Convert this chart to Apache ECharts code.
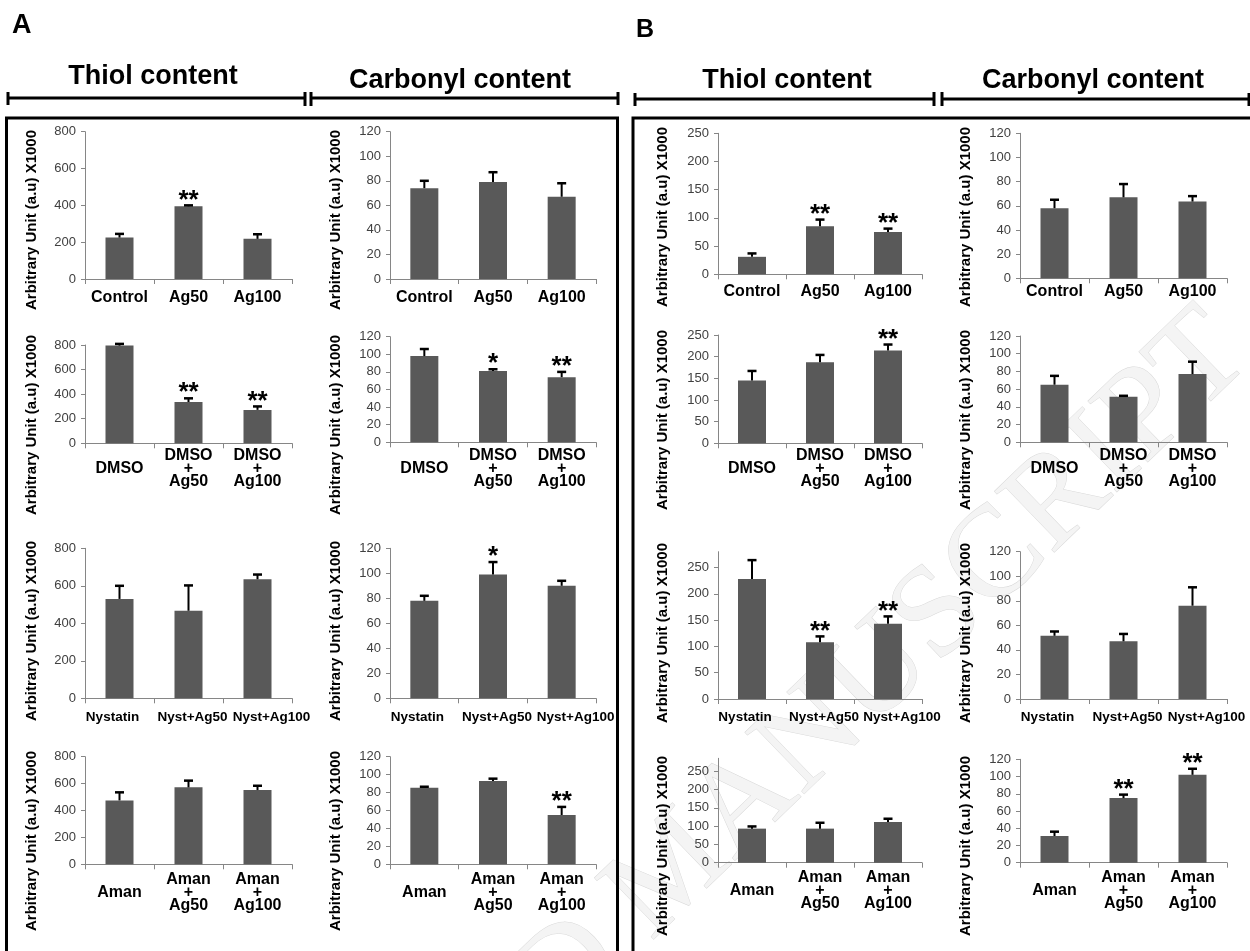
<!DOCTYPE html>
<html><head><meta charset="utf-8">
<script src="https://cdn.jsdelivr.net/npm/echarts@6/dist/echarts.min.js"></script>
<style>html,body{margin:0;padding:0;background:#fff}#c{width:1250px;height:951px}</style>
</head><body><div id="c"></div>
<script>
// ---------- categories ----------
const catsControl = ['Control', 'Ag50', 'Ag100'];
const catsDMSO = ['DMSO', 'DMSO\n+\nAg50', 'DMSO\n+\nAg100'];
const catsNyst = ['Nystatin', 'Nyst+Ag50', 'Nyst+Ag100'];
const catsAman = ['Aman', 'Aman\n+\nAg50', 'Aman\n+\nAg100'];

// ---------- Panel A : thiol ----------
const aThiolControl = [225, 395, 218], aThiolControlErr = [20, 5, 25], aThiolControlSig = ['', '**', ''];
const aThiolDMSO = [795, 336, 272], aThiolDMSOErr = [14, 30, 28], aThiolDMSOSig = ['', '**', '**'];
const aThiolNyst = [530, 467, 635], aThiolNystErr = [70, 135, 25], aThiolNystSig = ['', '', ''];
const aThiolAman = [475, 572, 552], aThiolAmanErr = [60, 50, 32], aThiolAmanSig = ['', '', ''];
// ---------- Panel A : carbonyl ----------
const aCarbControl = [74, 79, 67], aCarbControlErr = [6, 8, 11], aCarbControlSig = ['', '', ''];
const aCarbDMSO = [98, 81, 74], aCarbDMSOErr = [8, 2, 6], aCarbDMSOSig = ['', '*', '**'];
const aCarbNyst = [78, 99, 90], aCarbNystErr = [4, 10, 4], aCarbNystSig = ['', '*', ''];
const aCarbAman = [85.5, 93, 55], aCarbAmanErr = [1, 2.5, 9], aCarbAmanSig = ['', '', '**'];
// ---------- Panel B : thiol ----------
const bThiolControl = [31, 85, 75], bThiolControlErr = [6, 12, 6], bThiolControlSig = ['', '**', '**'];
const bThiolDMSO = [145, 187, 214], bThiolDMSOErr = [22, 17, 14], bThiolDMSOSig = ['', '', '**'];
const bThiolNyst = [228, 108, 143], bThiolNystErr = [36, 11, 14], bThiolNystSig = ['', '**', '**'];
const bThiolAman = [93, 93, 111], bThiolAmanErr = [6, 16, 9], bThiolAmanSig = ['', '', ''];
// ---------- Panel B : carbonyl ----------
const bCarbControl = [58, 67, 63.5], bCarbControlErr = [7, 11, 4.5], bCarbControlSig = ['', '', ''];
const bCarbDMSO = [65, 51.5, 77], bCarbDMSOErr = [10, 1, 14], bCarbDMSOSig = ['', '', ''];
const bCarbNyst = [51.5, 47, 76], bCarbNystErr = [3.5, 6, 15], bCarbNystSig = ['', '', ''];
const bCarbAman = [31, 75, 102], bCarbAmanErr = [5, 4, 7], bCarbAmanSig = ['', '**', '**'];

// ---------- axis scales ----------
const thiolAMax = 800, thiolAStep = 200;
const carbMax = 120, carbStep = 20;
const thiolBMax = [250, 250, 280, 285], thiolBStep = 50;

const yTitle = 'Arbitrary Unit (a.u) X1000';

// ---------- layout (pixels) ----------
const colLeft = [85, 390, 718, 1020];
const colWidth = [207, 206, 204, 207];
// [top, bottom, labelCenterY] per column, per row
const rowsLayout = [
  [[131.7, 279, 297.7], [345, 443.3, 469], [548.3, 698.3, 717], [756.7, 864.3, 893]],
  [[131.7, 279, 297.7], [336.7, 442.3, 469], [548.3, 698.3, 717], [756.7, 864.3, 893]],
  [[133.3, 274.3, 292], [335, 443.3, 469], [551.7, 699, 717], [758.3, 862.7, 891]],
  [[133.3, 278.3, 292], [336, 442.3, 469], [551.7, 699, 717], [759.3, 862.7, 891]]
];
const labelFont = [16, 16, 13.5, 16];
// horizontal label padding (left,right) used to nudge crowded labels of row 3
const labelPad = [null, null, [[0, 14], [8, 0], [28, 0]], null];
const titleX = [32, 336, 663, 966];
const titleY = [[220, 425, 631, 841], [220, 425, 631, 841], [217, 420, 633, 846], [217, 420, 633, 846]];

const FONT = 'Liberation Sans, Arial, sans-serif';
const cats = [catsControl, catsDMSO, catsNyst, catsAman];
const charts = [
  [[aThiolControl, aThiolControlErr, aThiolControlSig], [aThiolDMSO, aThiolDMSOErr, aThiolDMSOSig], [aThiolNyst, aThiolNystErr, aThiolNystSig], [aThiolAman, aThiolAmanErr, aThiolAmanSig]],
  [[aCarbControl, aCarbControlErr, aCarbControlSig], [aCarbDMSO, aCarbDMSOErr, aCarbDMSOSig], [aCarbNyst, aCarbNystErr, aCarbNystSig], [aCarbAman, aCarbAmanErr, aCarbAmanSig]],
  [[bThiolControl, bThiolControlErr, bThiolControlSig], [bThiolDMSO, bThiolDMSOErr, bThiolDMSOSig], [bThiolNyst, bThiolNystErr, bThiolNystSig], [bThiolAman, bThiolAmanErr, bThiolAmanSig]],
  [[bCarbControl, bCarbControlErr, bCarbControlSig], [bCarbDMSO, bCarbDMSOErr, bCarbDMSOSig], [bCarbNyst, bCarbNystErr, bCarbNystSig], [bCarbAman, bCarbAmanErr, bCarbAmanSig]]
];

const grids = [], xAxes = [], yAxes = [], series = [], graphics = [];
let gi = 0;
for (let c = 0; c < 4; c++) {
  for (let r = 0; r < 4; r++) {
    const [vals, errs, sig] = charts[c][r];
    const [top, bottom, labY] = rowsLayout[c][r];
    let max, step, hideMax = false;
    if (c === 0) { max = thiolAMax; step = thiolAStep; }
    else if (c === 2) { max = thiolBMax[r]; step = thiolBStep; hideMax = max % step !== 0; }
    else { max = carbMax; step = carbStep; }
    grids.push({ left: colLeft[c], width: colWidth[c], top: top, height: bottom - top, containLabel: false });
    const lab = {
      interval: 0, fontFamily: FONT, fontWeight: 'bold', fontSize: labelFont[r], color: '#000',
      lineHeight: 13, verticalAlign: 'middle', margin: labY - bottom
    };
    if (labelPad[r]) {
      const pads = labelPad[r];
      lab.formatter = (v, i) => '{s' + i + '|' + v + '}';
      lab.rich = {};
      pads.forEach((p, i) => {
        lab.rich['s' + i] = { fontFamily: FONT, fontWeight: 'bold', fontSize: labelFont[r], color: '#000', padding: [0, p[1], 0, p[0]] };
      });
    }
    xAxes.push({
      type: 'category', gridIndex: gi, data: cats[r],
      axisLine: { lineStyle: { color: '#868686', width: 1 } },
      axisTick: { show: true, length: 5, lineStyle: { color: '#868686' } },
      axisLabel: lab
    });
    yAxes.push({
      type: 'value', gridIndex: gi, min: 0, max: max, interval: step,
      axisLine: { show: true, lineStyle: { color: '#868686', width: 1 } },
      axisTick: { show: true, length: 4, lineStyle: { color: '#868686' } },
      splitLine: { show: false },
      axisLabel: { fontFamily: FONT, fontSize: 13, color: '#404040', margin: 9, showMaxLabel: hideMax ? false : null }
    });
    series.push({
      type: 'bar', xAxisIndex: gi, yAxisIndex: gi, data: vals, barWidth: 28,
      itemStyle: { color: '#595959' }, silent: true, animation: false
    });
    const sigs = sig;
    series.push({
      type: 'custom', xAxisIndex: gi, yAxisIndex: gi, z: 5, silent: true, animation: false,
      data: vals.map((v, k) => [k, v, errs[k]]),
      renderItem: function (params, api) {
        const k = api.value(0), v = api.value(1), e = api.value(2);
        const p0 = api.coord([k, v]), p1 = api.coord([k, v + e]);
        const ch = [
          { type: 'line', shape: { x1: p0[0], y1: p0[1], x2: p1[0], y2: p1[1] }, style: { stroke: '#000', lineWidth: 2 } },
          { type: 'line', shape: { x1: p1[0] - 4.5, y1: p1[1], x2: p1[0] + 4.5, y2: p1[1] }, style: { stroke: '#000', lineWidth: 2.5 } }
        ];
        const s = sigs[params.dataIndex];
        if (s) {
          ch.push({ type: 'text', x: p1[0], y: p1[1] - 5,
            style: { text: s, font: 'bold 26px ' + FONT, fill: '#000', textAlign: 'center', textVerticalAlign: 'middle', align: 'center', verticalAlign: 'middle' } });
        }
        return { type: 'group', children: ch };
      }
    });
    graphics.push({
      type: 'text', x: titleX[c], y: titleY[c][r], rotation: Math.PI / 2, z: 50,
      style: { text: yTitle, font: 'bold 15px ' + FONT, fill: '#000', textAlign: 'center', textVerticalAlign: 'middle' }
    });
    gi++;
  }
}

// watermark
graphics.push({
  type: 'text', x: 1230, y: 335, rotation: 44 * Math.PI / 180, z: -10,
  style: { text: 'ACCEPTED MANUSCRIPT', font: '130px Liberation Serif, serif', fill: '#f4f4f4', stroke: '#d9d9d9', lineWidth: 1, textAlign: 'right', textVerticalAlign: 'middle' }
});

// panel letters and headers
const hdr = (t, x, y, size, align) => ({ type: 'text', x: x, y: y, z: 60,
  style: { text: t, font: 'bold ' + size + 'px ' + FONT, fill: '#000', textAlign: align, textVerticalAlign: 'middle' } });
graphics.push(hdr('A', 12, 26, 27, 'left'));
graphics.push(hdr('B', 636, 30, 25, 'left'));
graphics.push(hdr('Thiol content', 153, 77, 27, 'center'));
graphics.push(hdr('Carbonyl content', 460, 81, 27, 'center'));
graphics.push(hdr('Thiol content', 787, 81, 27, 'center'));
graphics.push(hdr('Carbonyl content', 1093, 81, 27, 'center'));

const ln = (x1, y1, x2, y2, w) => ({ type: 'line', z: 60, shape: { x1, y1, x2, y2 }, style: { stroke: '#000', lineWidth: w } });
graphics.push(ln(8, 98, 305, 98, 3), ln(8, 92, 8, 105, 3), ln(305, 92, 305, 106, 3), ln(311, 92, 311, 106, 3), ln(311, 98, 618, 98, 3), ln(618, 92, 618, 105, 3));
graphics.push(ln(635, 99, 934, 99, 3), ln(635, 93, 635, 106, 3), ln(934, 92, 934, 106, 3), ln(942, 92, 942, 106, 3), ln(942, 99, 1249, 99, 3), ln(1249, 93, 1249, 106, 3));
graphics.push({ type: 'rect', z: 60, shape: { x: 6.5, y: 118, width: 611, height: 860 }, style: { fill: 'none', stroke: '#000', lineWidth: 3 } });
graphics.push({ type: 'rect', z: 60, shape: { x: 633, y: 118, width: 640, height: 860 }, style: { fill: 'none', stroke: '#000', lineWidth: 3 } });

const chart = echarts.init(document.getElementById('c'), null, { renderer: 'canvas' });
chart.setOption({
  animation: false, backgroundColor: '#fff',
  grid: grids, xAxis: xAxes, yAxis: yAxes, series: series, graphic: graphics
});
</script></body></html>
